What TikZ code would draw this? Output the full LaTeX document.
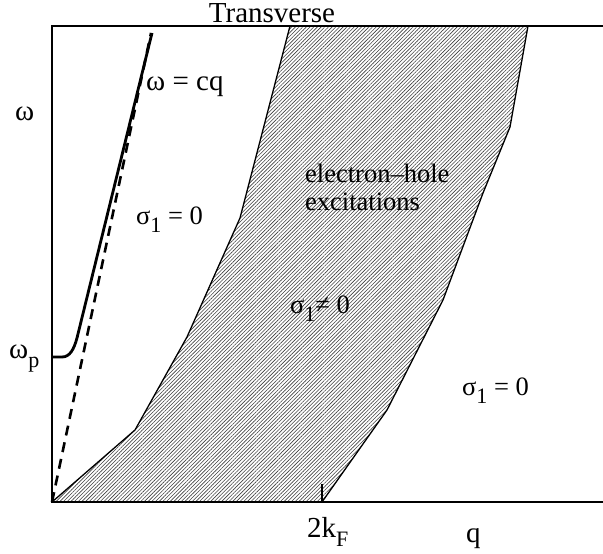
\documentclass[tikz,border=0pt]{standalone}
\usepackage{fontspec}
\setmainfont{Liberation Serif}
\usepackage{tikz}
\usetikzlibrary{patterns.meta}
\newcommand{\lowidx}[1]{\raisebox{-0.32em}{\fontsize{22}{22}\selectfont #1}}
\tikzset{
  frameline/.style={line width=1.4pt},
  edgeline/.style={line width=1.3pt,line join=round},
  plasmon/.style={line width=2.8pt,line join=round},
  lightline/.style={line width=2.6pt,dash pattern=on 10pt off 7pt},
  ehfill/.style={pattern={Lines[angle=45,distance=2.6pt,line width=0.6pt]},pattern color=black!75},
  lbl/.style={font=\fontsize{29}{30}\selectfont,inner sep=0pt,anchor=base west},
  smalllbl/.style={font=\fontsize{26.5}{28}\selectfont,inner sep=0pt,anchor=base west,align=left},
}
\begin{document}
\begin{tikzpicture}[x=1pt,y=-1pt]
    \useasboundingbox (0,0) rectangle (603,554);
    % corners of the electron-hole region
    \coordinate (o) at (52,502);
    \coordinate (kf) at (322,502);
    \coordinate (la) at (135,430); \coordinate (lb) at (187,337);
    \coordinate (lc) at (240,218); \coordinate (ld) at (290,26);
    \coordinate (ra) at (387,410); \coordinate (rb) at (443,300);
    \coordinate (rc) at (483,193); \coordinate (rd) at (510,127);
    \coordinate (re) at (528,26);
    \fill[ehfill] (o)--(la)--(lb)--(lc)--(ld)--(re)--(rd)--(rc)--(rb)--(ra)--(kf)--cycle;
    \draw[edgeline] (o)--(la)--(lb)--(lc)--(ld);
    \draw[edgeline] (kf)--(ra)--(rb)--(rc)--(rd)--(re);
    \draw[edgeline] (kf)--++(0,-18);
    % axes
    \draw[frameline] (603,26)--(52,26)--(o)--(603,502);
    % light line and plasmon branch
    \coordinate (wp) at (52,357);
    \coordinate (ltop) at (151,33);
    \draw[lightline] (o)--(ltop);
    \draw[plasmon] (wp)--(62,357) .. controls (70,357) and (74,349) .. (77,338) -- (152,33);
    % labels
    \node[lbl,anchor=base] (title) at (272,22) {Transverse};
    \node[lbl] (wlab) at (15,120) {ω};
    \node[lbl] (wplab) at (9,358) {ω\lowidx{p}};
    \node[lbl] (cqlab) at (146,90) {ω = cq};
    \node[smalllbl] (s0left) at (136,224) {σ\lowidx{1} = 0};
    \node[smalllbl] (ehlab) at (305,210) {electron–hole\\excitations};
    \node[smalllbl] (s1lab) at (290,313) {σ\lowidx{1}≠ 0};
    \node[smalllbl] (s0right) at (462,395) {σ\lowidx{1} = 0};
    \node[lbl] (kflab) at (307,537) {2k\lowidx{F}};
    \node[lbl] (qlab) at (466,542) {q};
\end{tikzpicture}
\end{document}
